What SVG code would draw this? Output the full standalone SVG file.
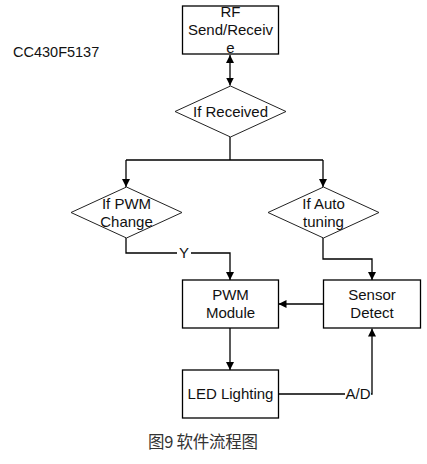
<svg xmlns="http://www.w3.org/2000/svg" width="427" height="464" viewBox="0 0 427 464">
<defs>
<marker id="ah" viewBox="0 0 10 10" refX="10" refY="5" markerWidth="8" markerHeight="8" markerUnits="userSpaceOnUse" orient="auto-start-reverse">
<path d="M0,0 L10,5 L0,10 Z" fill="#000"/>
</marker>
<style>
.box{fill:#fff;stroke:#000;stroke-width:1.3}
.dia{fill:#fff;stroke:#222;stroke-width:1}
.t{font-family:"Liberation Sans",Arial,sans-serif;font-size:15px;fill:#111;text-anchor:middle}
.c{fill:none;stroke:#000;stroke-width:1.3}
.lbl{font-family:"Liberation Sans",Arial,sans-serif;font-size:15px;fill:#111;text-anchor:middle}
</style>
</defs>
<rect width="427" height="464" fill="#fff"/>
<text x="13" y="57" style="font-family:'Liberation Sans',Arial,sans-serif;font-size:14.5px;fill:#111">CC430F5137</text>
<g id="connectors">
<path class="c" d="M230,55 V85.5" marker-start="url(#ah)" marker-end="url(#ah)"/>
<path class="c" d="M230,137 V160 M126,160 H323"/>
<path class="c" d="M126,160 V187" marker-end="url(#ah)"/>
<path class="c" d="M323,160 V187" marker-end="url(#ah)"/>
<path class="c" d="M126,238 V253 H230 V280" marker-end="url(#ah)"/>
<path class="c" d="M323,238 V259 H372 V280" marker-end="url(#ah)"/>
<path class="c" d="M323,304 H278.5" marker-end="url(#ah)"/>
<path class="c" d="M230,328 V370" marker-end="url(#ah)"/>
<path class="c" d="M278,394 H372 V328.5" marker-end="url(#ah)"/>
<rect x="177" y="245" width="14" height="16" fill="#fff"/>
<text class="lbl" x="184" y="258">Y</text>
<rect x="345" y="386" width="26" height="16" fill="#fff"/>
<text class="lbl" x="358" y="399">A/D</text>
</g>
<g id="rf">
<rect class="box" x="182.5" y="6" width="96" height="48"/>
<text class="t" x="230.5" y="17">RF</text>
<text class="t" x="230.5" y="35">Send/Receiv</text>
<text class="t" x="230.5" y="53">e</text>
</g>
<g id="received">
<path class="dia" d="M230.5,86 L286,111.5 L230.5,137 L175,111.5 Z"/>
<text class="t" x="230.5" y="116.5">If Received</text>
</g>
<g id="pwmchange">
<path class="dia" d="M126.5,187 L182,212.5 L126.5,238 L71,212.5 Z"/>
<text class="t" x="126.5" y="209">If PWM</text>
<text class="t" x="126.5" y="227">Change</text>
</g>
<g id="autotuning">
<path class="dia" d="M323.5,187 L379,212.5 L323.5,238 L268,212.5 Z"/>
<text class="t" x="323.5" y="209">If Auto</text>
<text class="t" x="323.5" y="227">tuning</text>
</g>
<g id="pwm">
<rect class="box" x="182.5" y="280" width="96" height="48"/>
<text class="t" x="230.5" y="300">PWM</text>
<text class="t" x="230.5" y="318">Module</text>
</g>
<g id="sensor">
<rect class="box" x="323.5" y="280" width="97" height="48"/>
<text class="t" x="372" y="300">Sensor</text>
<text class="t" x="372" y="318">Detect</text>
</g>
<g id="led">
<rect class="box" x="182.5" y="370" width="96" height="48"/>
<text class="t" x="230.5" y="399">LED Lighting</text>
</g>
<text x="148" y="448" style="font-family:'Noto Sans CJK SC',sans-serif;font-size:16.5px;fill:#333" textLength="110">图9 软件流程图</text>
</svg>
